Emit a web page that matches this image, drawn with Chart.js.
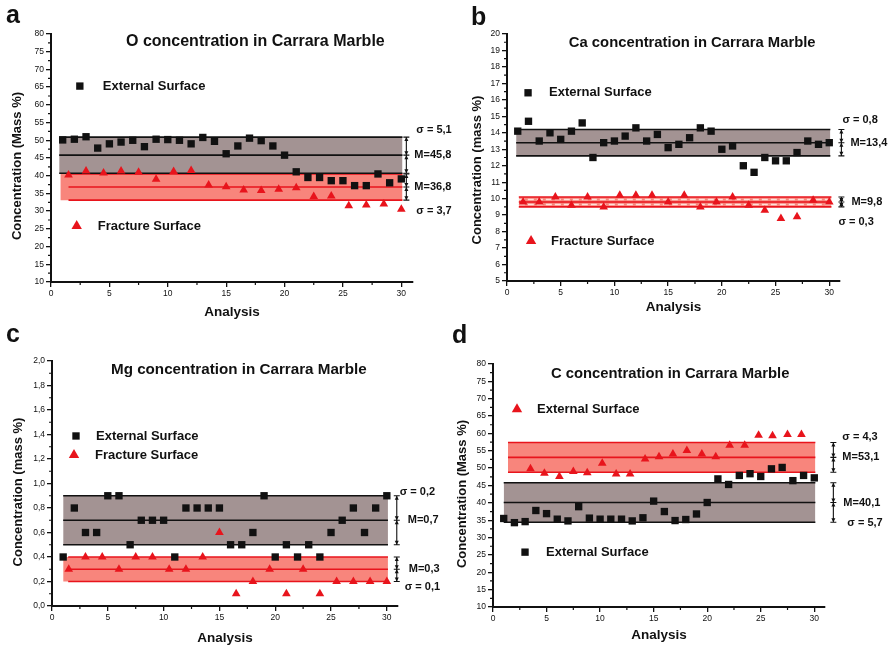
<!DOCTYPE html>
<html>
<head>
<meta charset="utf-8">
<title>Carrara Marble concentrations</title>
<script src="https://cdn.jsdelivr.net/npm/chart.js@4.4.0/dist/chart.umd.min.js"></script>
<style>
  body { margin: 0; background: #fff; width: 891px; height: 647px; position: relative; overflow: hidden; }
  .panel { position: absolute; }
  .letter { position: absolute; font: bold 25px 'Liberation Sans', Arial, sans-serif; line-height: 1; color: #111; }
</style>
</head>
<body>
<div class="panel" style="left:0;top:0"><canvas id="chartO" width="462" height="320"></canvas></div>
<div class="panel" style="left:445px;top:0"><canvas id="chartCa" width="446" height="320"></canvas></div>
<div class="panel" style="left:0;top:320px"><canvas id="chartMg" width="460" height="327"></canvas></div>
<div class="panel" style="left:445px;top:320px"><canvas id="chartC" width="446" height="327"></canvas></div>
<div class="letter" style="left:6px;top:2px">a</div>
<div class="letter" style="left:471px;top:4px">b</div>
<div class="letter" style="left:6px;top:321px">c</div>
<div class="letter" style="left:452px;top:322px">d</div>

<script>
// analysis numbers and the positions of the fracture-surface readings
const analysis = [1, 2, 3, 4, 5, 6, 7, 8, 9, 10, 11, 12, 13, 14, 15, 16, 17, 18, 19, 20, 21, 22, 23, 24, 25, 26, 27, 28, 29, 30];
const fracturePos = [1.5, 3, 4.5, 6, 7.5, 9, 10.5, 12, 13.5, 15, 16.5, 18, 19.5, 21, 22.5, 24, 25.5, 27, 28.5, 30];

// O (mass %)
const oExternal = [50.1, 50.3, 51.0, 47.8, 49.0, 49.5, 50.0, 48.2, 50.3, 50.2, 50.0, 49.0, 50.8, 49.7, 46.2, 48.4, 50.6, 49.9, 48.4, 45.8, 41.1, 39.5, 39.5, 38.6, 38.6, 37.2, 37.2, 40.5, 38.0, 39.1];
const oFracture = [40.2, 41.3, 40.8, 41.3, 41.0, 39.0, 41.2, 41.5, 37.4, 36.9, 36.0, 35.8, 36.2, 36.6, 34.1, 34.3, 31.5, 31.7, 32.0, 30.5];
const oMean = [45.8, 36.8];
const oSigma = [5.1, 3.7];

// Ca (mass %)
const caExternal = [14.1, 14.7, 13.5, 14.0, 13.6, 14.1, 14.6, 12.5, 13.4, 13.5, 13.8, 14.3, 13.5, 13.9, 13.1, 13.3, 13.7, 14.3, 14.1, 13.0, 13.2, 12.0, 11.6, 12.5, 12.3, 12.3, 12.8, 13.5, 13.3, 13.4];
const caFracture = [9.8, 9.8, 10.1, 9.6, 10.1, 9.5, 10.2, 10.2, 10.2, 9.8, 10.2, 9.5, 9.8, 10.1, 9.6, 9.3, 8.8, 8.9, 9.9, 9.8];
const caMean = [13.4, 9.8];
const caSigma = [0.8, 0.3];

// Mg (mass %)
const mgExternal = [0.4, 0.8, 0.6, 0.6, 0.9, 0.9, 0.5, 0.7, 0.7, 0.7, 0.4, 0.8, 0.8, 0.8, 0.8, 0.5, 0.5, 0.6, 0.9, 0.4, 0.5, 0.4, 0.5, 0.4, 0.6, 0.7, 0.8, 0.6, 0.8, 0.9];
const mgFracture = [0.3, 0.4, 0.4, 0.3, 0.4, 0.4, 0.3, 0.3, 0.4, 0.6, 0.1, 0.2, 0.3, 0.1, 0.3, 0.1, 0.2, 0.2, 0.2, 0.2];
const mgMean = [0.7, 0.3];
const mgSigma = [0.2, 0.1];

// C (mass %)
const cRedPos = [3.5, 4.8, 6.2, 7.5, 8.8, 10.2, 11.5, 12.8, 14.2, 15.5, 16.8, 18.1, 19.5, 20.8, 22.1, 23.5, 24.8, 26.1, 27.5, 28.8];
const cRed = [49.8, 48.5, 47.6, 49.0, 48.7, 51.4, 48.3, 48.3, 52.6, 53.3, 54.1, 55.1, 54.1, 53.3, 56.6, 56.6, 59.5, 59.3, 59.7, 59.7];
const cBlack = [35.5, 34.3, 34.6, 37.8, 36.9, 35.3, 34.8, 38.9, 35.6, 35.3, 35.3, 35.3, 34.8, 35.7, 40.5, 37.5, 34.9, 35.2, 36.8, 40.1, 46.9, 45.3, 47.9, 48.4, 47.6, 49.8, 50.2, 46.4, 47.9, 47.2];
const cMean = [53.1, 40.1];
const cSigma = [4.3, 5.7];

const FONT = "'Liberation Sans', Arial, sans-serif";
const INK = '#111111';
const RED = '#e8141c';
const GRAY_FILL = '#a39393';
const RED_FILL = '#f8857c';

Chart.defaults.font.family = FONT;
Chart.defaults.color = INK;

const fmt = v => v.toFixed(1).replace('.', ',');
const pts = (xs, ys) => ys.map((v, i) => ({ x: xs[i], y: v }));
const hline = (x0, x1, v) => [{ x: x0, y: v }, { x: x1, y: v }];

// titles, keys, minor ticks and the sigma / mean brackets on the right
const annotate = {
  id: 'annotate',
  afterDraw(chart, args, o) {
    const { ctx, scales: { x, y } } = chart;
    ctx.save();

    // minor ticks halfway between the labelled ones
    ctx.strokeStyle = INK;
    ctx.lineWidth = 1.2;
    ctx.beginPath();
    const xt = x.ticks, yt = y.ticks;
    for (let i = 0; i < xt.length - 1; i++) {
      const px = x.getPixelForValue((xt[i].value + xt[i + 1].value) / 2);
      ctx.moveTo(px, y.bottom);
      ctx.lineTo(px, y.bottom + 3);
    }
    for (let i = 0; i < yt.length - 1; i++) {
      const py = y.getPixelForValue((yt[i].value + yt[i + 1].value) / 2);
      ctx.moveTo(x.left, py);
      ctx.lineTo(x.left - 3, py);
    }
    ctx.stroke();

    // y axis title
    ctx.fillStyle = INK;
    ctx.font = 'bold 13px ' + FONT;
    ctx.textAlign = 'center';
    ctx.textBaseline = 'middle';
    ctx.save();
    ctx.translate(o.yTitleAt[0], o.yTitleAt[1]);
    ctx.rotate(-Math.PI / 2);
    ctx.fillText(o.yTitle, 0, 0);
    ctx.restore();

    // chart title inside the plot
    ctx.font = 'bold ' + o.titleSize + 'px ' + FONT;
    ctx.fillText(o.title, x.getPixelForValue(o.titleAt[0]), y.getPixelForValue(o.titleAt[1]));

    // keys
    ctx.textAlign = 'left';
    ctx.font = 'bold 13px ' + FONT;
    o.keys.forEach(k => {
      const px = x.getPixelForValue(k.at[0]);
      const py = y.getPixelForValue(k.at[1]);
      ctx.fillStyle = k.color;
      Chart.helpers.drawPoint(ctx, { pointStyle: k.style, radius: k.style === 'rect' ? 5.2 : 6, borderWidth: 0, rotation: 0 }, px, py);
      ctx.fillStyle = INK;
      ctx.fillText(k.text, px + k.gap, py);
    });

    // brackets with arrow heads
    const bx = x.getPixelForValue(o.bracketX);
    const arrow = (py, dir) => {
      ctx.beginPath();
      ctx.moveTo(bx, py);
      ctx.lineTo(bx - 2, py - dir * 4);
      ctx.lineTo(bx + 2, py - dir * 4);
      ctx.closePath();
      ctx.fill();
    };
    ctx.font = 'bold 11px ' + FONT;
    o.bands.forEach((b, i) => {
      const top = y.getPixelForValue(b.mean + b.sigma);
      const mid = y.getPixelForValue(b.mean);
      const bot = y.getPixelForValue(b.mean - b.sigma);
      ctx.strokeStyle = INK;
      ctx.fillStyle = INK;
      ctx.lineWidth = 1.1;
      ctx.beginPath();
      ctx.moveTo(bx, top);
      ctx.lineTo(bx, bot);
      [top, mid, bot].forEach(v => { ctx.moveTo(bx - 3, v); ctx.lineTo(bx + 3, v); });
      ctx.stroke();
      arrow(top, -1);
      arrow(mid, 1);
      arrow(mid, -1);
      arrow(bot, 1);

      ctx.fillText('M=' + fmt(b.mean), bx + o.mOff[i], mid);
      const sy = i === 0 ? top - o.sDy[i] : bot + o.sDy[i];
      ctx.fillText('\u03c3 = ' + fmt(b.sigma), bx + o.sOff[i], sy);
    });
    ctx.restore();
  }
};

function buildDatasets(p) {
  const sets = [];
  p.series.forEach(s => sets.push({
    data: pts(s.xs, s.ys),
    pointStyle: s.style,
    pointRadius: s.style === 'rect' ? 5.2 : 5,
    backgroundColor: s.color,
    borderColor: s.color,
    borderWidth: 0,
    showLine: false
  }));
  p.bands.forEach(b => {
    [b.mean + b.sigma, b.mean, b.mean - b.sigma].forEach(v => sets.push({
      data: hline(b.lineFrom || b.from, b.to, v),
      showLine: true,
      borderColor: b.line,
      borderWidth: 1.6,
      pointRadius: 0,
      fill: false
    }));
    // thin bands get light dashed stripes between their lines
    if (b.stripes) {
      [b.mean + b.sigma / 2, b.mean - b.sigma / 2].forEach(v => sets.push({
        data: hline(b.from, b.to, v),
        showLine: true,
        borderColor: 'rgba(255,235,230,0.9)',
        borderWidth: 1.6,
        borderDash: [6, 3],
        pointRadius: 0,
        fill: false
      }));
    }
  });
  p.bands.forEach(b => sets.push({
    data: hline(b.from, b.to, b.mean + b.sigma),
    showLine: true,
    borderColor: 'rgba(0,0,0,0)',
    pointRadius: 0,
    backgroundColor: b.fill,
    fill: { value: b.mean - b.sigma }
  }));
  return sets;
}

function makePanel(id, p) {
  const tickFont = { size: 8.5 };
  return new Chart(document.getElementById(id), {
    type: 'scatter',
    data: { datasets: buildDatasets(p) },
    options: {
      responsive: false,
      animation: false,
      devicePixelRatio: 1,
      layout: { padding: { left: 0, right: p.padRight, top: p.padTop, bottom: 0 } },
      plugins: {
        legend: { display: false },
        tooltip: { enabled: false },
        annotate: p.notes
      },
      scales: {
        x: {
          type: 'linear', min: 0, max: 31,
          ticks: { stepSize: 5, includeBounds: false, font: tickFont, color: INK, padding: 2, maxRotation: 0 },
          grid: { drawOnChartArea: false, drawTicks: true, tickLength: 5, color: INK, lineWidth: 1.3 },
          border: { color: INK, width: 2 },
          title: { display: true, text: 'Analysis', font: { weight: 'bold', size: 13.5 }, color: INK, padding: { top: 0, bottom: p.xTitlePad } },
          afterFit: s => { s.height = p.xAxisH; }
        },
        y: {
          type: 'linear', min: p.yMin, max: p.yMax,
          ticks: {
            stepSize: p.yStep, includeBounds: false, font: tickFont, color: INK, padding: 2,
            callback: v => p.decimals ? fmt(v) : String(Math.round(v))
          },
          grid: { drawOnChartArea: false, drawTicks: true, tickLength: 5, color: INK, lineWidth: 1.3 },
          border: { color: INK, width: 2 },
          afterFit: s => { s.width = p.yAxisW; }
        }
      }
    },
    plugins: [annotate]
  });
}

// a: oxygen
makePanel('chartO', {
  yMin: 10, yMax: 80, yStep: 5,
  padTop: 34, padRight: 49, yAxisW: 51, xAxisH: 38, xTitlePad: 0,
  series: [
    { xs: analysis, ys: oExternal, style: 'rect', color: INK },
    { xs: fracturePos, ys: oFracture, style: 'triangle', color: RED }
  ],
  bands: [
    { mean: oMean[0], sigma: oSigma[0], from: 0.7, to: 30.1, fill: GRAY_FILL, line: INK },
    { mean: oMean[1], sigma: oSigma[1], from: 0.8, lineFrom: 1.5, to: 30.1, fill: RED_FILL, line: RED }
  ],
  notes: {
    title: 'O concentration in Carrara Marble', titleSize: 16, titleAt: [17.5, 77.8],
    yTitle: 'Concentration (Mass %)', yTitleAt: [17, 166],
    keys: [
      { text: 'External Surface', style: 'rect', color: INK, at: [2.47, 65.3], gap: 23 },
      { text: 'Fracture Surface', style: 'triangle', color: RED, at: [2.2, 25.8], gap: 21 }
    ],
    bands: [{ mean: oMean[0], sigma: oSigma[0] }, { mean: oMean[1], sigma: oSigma[1] }],
    bracketX: 30.43, mOff: [8, 8], sOff: [10, 10], sDy: [7, 11]
  }
});

// b: calcium
makePanel('chartCa', {
  yMin: 5, yMax: 20, yStep: 1,
  padTop: 34, padRight: 51, yAxisW: 62, xAxisH: 39, xTitlePad: 5,
  series: [
    { xs: analysis, ys: caExternal, style: 'rect', color: INK },
    { xs: fracturePos, ys: caFracture, style: 'triangle', color: RED }
  ],
  bands: [
    { mean: caMean[0], sigma: caSigma[0], from: 0.85, to: 30.1, fill: GRAY_FILL, line: INK },
    { mean: caMean[1], sigma: caSigma[1], from: 1.1, to: 30.2, fill: RED_FILL, line: RED, stripes: true }
  ],
  notes: {
    title: 'Ca concentration in Carrara Marble', titleSize: 14.8, titleAt: [17.24, 19.47],
    yTitle: 'Concentration (mass %)', yTitleAt: [32, 170],
    keys: [
      { text: 'External Surface', style: 'rect', color: INK, at: [1.96, 16.43], gap: 21 },
      { text: 'Fracture Surface', style: 'triangle', color: RED, at: [2.24, 7.43], gap: 20 }
    ],
    bands: [{ mean: caMean[0], sigma: caSigma[0] }, { mean: caMean[1], sigma: caSigma[1] }],
    bracketX: 31.13, mOff: [9, 10], sOff: [1, -3], sDy: [10, 15]
  }
});

// c: magnesium
makePanel('chartMg', {
  yMin: 0, yMax: 2, yStep: 0.2, decimals: true,
  padTop: 41, padRight: 62, yAxisW: 52, xAxisH: 41, xTitlePad: 1,
  series: [
    { xs: analysis, ys: mgExternal, style: 'rect', color: INK },
    { xs: fracturePos, ys: mgFracture, style: 'triangle', color: RED }
  ],
  bands: [
    { mean: mgMean[0], sigma: mgSigma[0], from: 1.0, to: 30.1, fill: GRAY_FILL, line: INK },
    { mean: mgMean[1], sigma: mgSigma[1], from: 1.0, lineFrom: 1.45, to: 30.1, fill: RED_FILL, line: RED }
  ],
  notes: {
    title: 'Mg concentration in Carrara Marble', titleSize: 15.2, titleAt: [16.74, 1.927],
    yTitle: 'Concentration (mass %)', yTitleAt: [18, 172],
    keys: [
      { text: 'External Surface', style: 'rect', color: INK, at: [2.15, 1.388], gap: 20 },
      { text: 'Fracture Surface', style: 'triangle', color: RED, at: [1.97, 1.233], gap: 21 }
    ],
    bands: [{ mean: mgMean[0], sigma: mgSigma[0] }, { mean: mgMean[1], sigma: mgSigma[1] }],
    bracketX: 30.89, mOff: [11, 12], sOff: [3, 8], sDy: [4, 5]
  }
});

// d: carbon
makePanel('chartC', {
  yMin: 10, yMax: 80, yStep: 5,
  padTop: 44, padRight: 66, yAxisW: 48, xAxisH: 40, xTitlePad: 4,
  series: [
    { xs: analysis, ys: cBlack, style: 'rect', color: INK },
    { xs: cRedPos, ys: cRed, style: 'triangle', color: RED }
  ],
  bands: [
    { mean: cMean[0], sigma: cSigma[0], from: 1.4, to: 30.1, fill: RED_FILL, line: RED },
    { mean: cMean[1], sigma: cSigma[1], from: 1.0, to: 30.1, fill: GRAY_FILL, line: INK }
  ],
  notes: {
    title: 'C concentration in Carrara Marble', titleSize: 14.8, titleAt: [16.54, 77.1],
    yTitle: 'Concentration (Mass %)', yTitleAt: [17, 174],
    keys: [
      { text: 'External Surface', style: 'triangle', color: RED, at: [2.24, 67.0], gap: 20 },
      { text: 'External Surface', style: 'rect', color: INK, at: [2.99, 25.8], gap: 21 }
    ],
    bands: [{ mean: cMean[0], sigma: cSigma[0] }, { mean: cMean[1], sigma: cSigma[1] }],
    bracketX: 31.78, mOff: [9, 10], sOff: [9, 14], sDy: [5, 1]
  }
});
</script>
</body>
</html>
